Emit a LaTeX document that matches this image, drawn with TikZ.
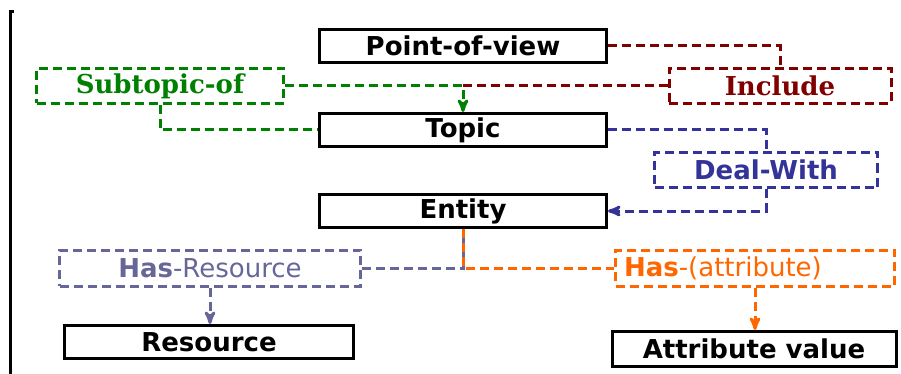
\documentclass[tikz,border=0pt]{standalone}
\usepackage{fontspec}
\setmainfont{DejaVu Sans}
\newfontfamily\serifbold{DejaVu Serif}
\usetikzlibrary{arrows,positioning}

\definecolor{incred}{RGB}{128,0,0}
\definecolor{subgreen}{RGB}{0,128,0}
\definecolor{dealblue}{RGB}{51,51,153}
\definecolor{reslav}{RGB}{102,102,153}
\definecolor{attrorange}{RGB}{255,102,0}

\begin{document}
\begin{tikzpicture}[x=1pt,y=-1pt,>=stealth',node distance=82pt,
        box/.style={draw,line width=3pt,minimum width=287pt,minimum height=33pt,
          inner sep=0pt,font=\fontsize{26}{28}\selectfont\bfseries},
        relbox/.style={draw=#1,text=#1,line width=3pt,dash pattern=on 9pt off 5pt,
          minimum height=35pt,inner sep=0pt,font=\fontsize{26}{28}\selectfont},
        link/.style={draw=#1,line width=3pt,dash pattern=on 9pt off 5pt}]

  \useasboundingbox (0,0) rectangle (901,374);
  \draw[line width=3pt] (14,12) -- (10,12) -- (10,374);

  \node[box] (Point of view) at (463,46) {Point-of-view};
  \node[box] (Topic) [below of=Point of view, node distance=84pt] {Topic};
  \node[box] (Entity) [below of=Topic, node distance=81pt] {Entity};
  \node[box,minimum width=289pt] (Resource) at (209,342) {Resource};
  \node[box,minimum width=284pt,minimum height=35pt] (Attribute value) at (754,349) {Attribute value};

  \node[relbox=subgreen,minimum width=247pt] (Subtopic of) at (160,86) {\serifbold\bfseries Subtopic-of};
  \node[relbox=incred,minimum width=222pt] (Include) at (780,86) {\serifbold\bfseries Include};
  \node[relbox=dealblue,minimum width=223pt] (Deal With) at (766,170) {\bfseries Deal-With};
  \node[relbox=reslav,minimum width=301pt,minimum height=36pt] (Has Resource) at (210,268) {\textbf{Has}-Resource};
  \node[relbox=attrorange,minimum width=279pt,minimum height=36pt,text width=262pt,align=left] (Has attribute) at (755,268) {\textbf{Has}-(attribute)};

  % point-of-view / topic
  \draw[link=incred] (Point of view.east) -| (Include.north);
  \draw[link=incred] (Include.west) -- (Include.west -| Topic.north);
  \draw[link=subgreen,->] (Subtopic of.east) -| (Topic.north);
  \draw[link=subgreen] (Subtopic of.south) |- (Topic.west);

  % topic / entity
  \draw[link=dealblue] (Topic.east) -| (Deal With.north);
  \draw[link=dealblue,->] (Deal With.south) |- (Entity.east);

  % entity / resource and attributes
  \draw[link=reslav] (Has Resource.east) -| (Entity.south);
  \draw[link=attrorange] (Entity.south) |- (Has attribute.west);
  \draw[link=reslav,->] (Has Resource.south) -- (Has Resource.south |- Resource.north);
  \draw[link=attrorange,->] (Has attribute.south) -- (Has attribute.south |- Attribute value.north);
\end{tikzpicture}
\end{document}
